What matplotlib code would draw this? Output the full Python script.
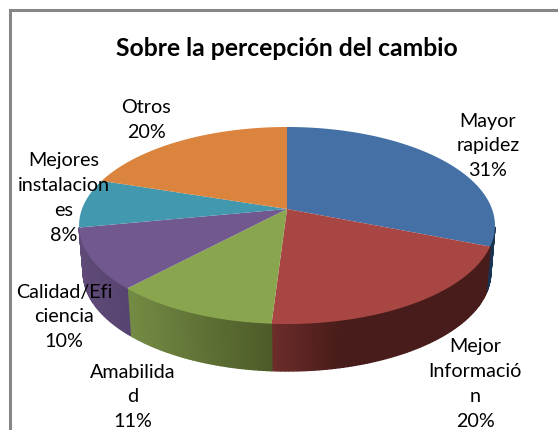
import numpy as np
import matplotlib
matplotlib.use("Agg")
import matplotlib.pyplot as plt
from matplotlib.patches import Polygon
from matplotlib.colors import to_rgb

TITLE = "Sobre la percepción del cambio"
labels = ["Mayor\nrapidez", "Mejor\nInformació\nn", "Amabilida\nd",
          "Calidad/Efi\nciencia", "Mejores\ninstalacion\nes", "Otros"]
percent = [31, 20, 11, 10, 8, 20]
top_colors = ["#4470A6", "#A84644", "#89A54E", "#71588F", "#4198AF", "#DB843D"]
side_left = ["#1A3350", "#6E2D2B", "#748C45", "#5F4A78", "#2F7486", "#9A5C28"]
side_right = ["#1A3350", "#481C1A", "#4D5B28", "#574470", "#2F7486", "#9A5C28"]
label_pos = [(488, 146), (475, 384), (133, 397), (64, 317), (64, 198), (146, 120)]

CX, CY = 287, 210
K, A, C = 205, -60.56, 0.1675
DEPTH, BOTTOM_SCALE = 47, 0.98


def project(theta):
    u, v = np.sin(theta), np.cos(theta)
    d = 1 + C * v
    return CX + K * u / d, (A * v + CY) / d


fig = plt.figure(figsize=(5.58, 4.31), dpi=100)
ax = fig.add_axes([0, 0, 1, 1])
ax.set_xlim(0, 558)
ax.set_ylim(431, 0)
ax.axis("off")

edges = np.deg2rad(np.cumsum([0] + percent) * 3.6)

# side wall, front part only
for i, (a, b) in enumerate(zip(edges[:-1], edges[1:])):
    ts = np.linspace(a, b, max(2, int(np.degrees(b - a))))
    x, y = project(ts)
    xb = CX + (x - CX) * BOTTOM_SCALE
    yb = y + DEPTH
    x0, x1 = x.min(), x.max()
    c0, c1 = np.array(to_rgb(side_left[i])), np.array(to_rgb(side_right[i]))
    for j in range(len(ts) - 1):
        if np.cos(ts[j]) > -0.17 or np.cos(ts[j + 1]) > -0.17:
            continue
        f = ((x[j] - x0) / max(x1 - x0, 1)) if i != 1 else min(1, (x[j] - x0) / 70)
        col = c0 + (c1 - c0) * f
        ax.add_patch(Polygon([(x[j], y[j]), (x[j + 1], y[j + 1]),
                              (xb[j + 1], yb[j + 1]), (xb[j], yb[j])],
                             closed=True, fc=col, ec=col, lw=1.0, zorder=2))

# top face
for i, (a, b) in enumerate(zip(edges[:-1], edges[1:])):
    ts = np.linspace(a, b, 200)
    x, y = project(ts)
    pts = [(CX, CY)] + list(zip(x, y))
    ax.add_patch(Polygon(pts, closed=True, fc=top_colors[i], ec="none", zorder=3))

# chart frame
ax.plot([10, 10, 558], [431, 11, 11], color="#868686", lw=2.2, zorder=1,
        solid_joinstyle="miter")

ax.text(287, 48, TITLE, ha="center", va="center", fontsize=17.8,
        fontweight="bold", family="Lato", color="black", zorder=5)

for lab, pct, (lx, ly) in zip(labels, percent, label_pos):
    ax.text(lx, ly, f"{lab}\n{pct}%", ha="center", va="center", fontsize=14.2,
            family="Lato", color="black", linespacing=1.55, zorder=5)

fig.savefig("out.png", dpi=100)
